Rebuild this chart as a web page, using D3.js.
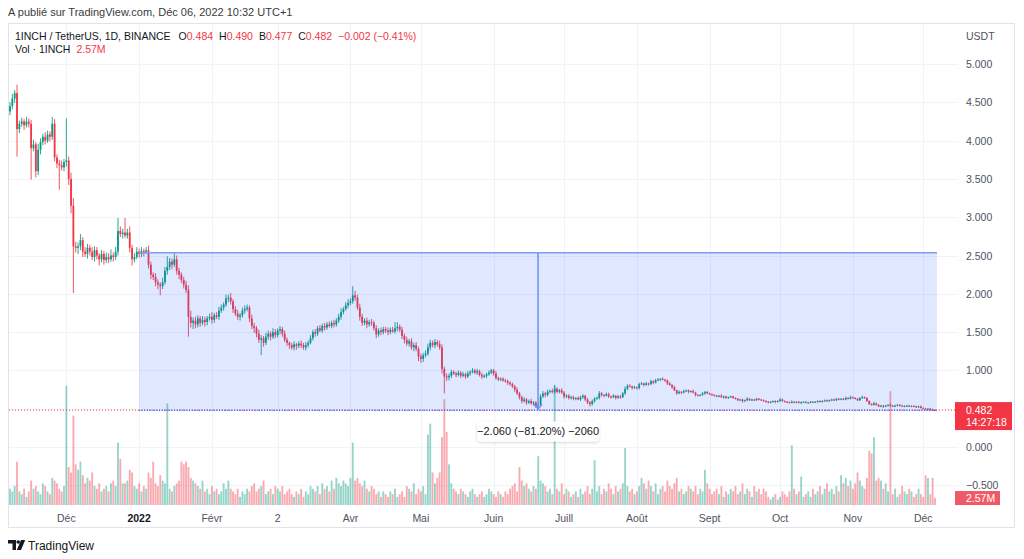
<!DOCTYPE html>
<html><head><meta charset="utf-8">
<script src="https://cdn.jsdelivr.net/npm/d3@7"></script>
<style>body{margin:0;background:#fff;} svg{display:block;font-family:"Liberation Sans",Arial,sans-serif;}</style>
</head><body><svg id="c" width="1024" height="559"></svg>
<script>
// ---------- DATA ----------
const startDate = "2021-11-07";
const firstOpen = 4.38;
const closes = [
4.45,4.55,4.62,4.15,4.22,4.25,4.20,4.25,4.22,3.90,
3.95,3.60,3.88,3.98,4.05,4.00,4.08,4.05,4.22,3.78,
3.70,3.68,3.65,3.72,3.74,3.50,3.15,2.62,2.60,2.62,
2.70,2.55,2.52,2.60,2.55,2.48,2.57,2.50,2.45,2.52,
2.44,2.48,2.45,2.50,2.48,2.55,2.82,2.78,2.80,2.76,
2.80,2.60,2.45,2.48,2.55,2.52,2.56,2.55,2.57,2.38,
2.25,2.22,2.15,2.12,2.10,2.15,2.30,2.35,2.42,2.38,
2.45,2.30,2.25,2.18,2.12,2.05,1.70,1.62,1.65,1.60,
1.68,1.62,1.66,1.63,1.68,1.70,1.66,1.72,1.70,1.78,
1.82,1.86,1.94,1.95,1.90,1.80,1.74,1.70,1.72,1.78,
1.80,1.82,1.68,1.58,1.55,1.48,1.40,1.42,1.36,1.44,
1.48,1.44,1.50,1.46,1.52,1.54,1.48,1.40,1.36,1.33,
1.30,1.34,1.32,1.35,1.33,1.30,1.33,1.36,1.42,1.50,
1.48,1.55,1.52,1.58,1.56,1.60,1.58,1.62,1.60,1.65,
1.70,1.76,1.80,1.85,1.88,1.90,1.98,1.95,1.82,1.70,
1.62,1.65,1.60,1.63,1.62,1.55,1.47,1.52,1.50,1.54,
1.52,1.50,1.53,1.51,1.55,1.57,1.53,1.45,1.40,1.35,
1.38,1.30,1.33,1.28,1.18,1.15,1.20,1.22,1.30,1.36,
1.33,1.37,1.34,1.30,1.02,0.92,0.91,0.93,0.98,0.96,
0.94,0.97,0.93,0.95,0.92,0.96,0.98,1.00,0.97,0.99,
0.94,0.92,0.93,0.95,0.97,1.00,0.96,0.90,0.88,0.89,
0.87,0.86,0.84,0.82,0.79,0.75,0.70,0.65,0.60,0.62,
0.58,0.60,0.57,0.58,0.53,0.55,0.66,0.70,0.68,0.72,
0.73,0.72,0.76,0.72,0.74,0.71,0.66,0.67,0.64,0.65,
0.63,0.64,0.62,0.65,0.67,0.62,0.58,0.56,0.60,0.63,
0.64,0.70,0.68,0.67,0.69,0.66,0.65,0.67,0.64,0.66,
0.65,0.70,0.76,0.80,0.79,0.77,0.78,0.77,0.82,0.83,
0.81,0.83,0.82,0.86,0.84,0.87,0.88,0.89,0.88,0.87,
0.83,0.81,0.78,0.74,0.70,0.72,0.71,0.73,0.74,0.72,
0.73,0.71,0.68,0.67,0.68,0.70,0.72,0.70,0.69,0.68,
0.67,0.66,0.67,0.65,0.66,0.64,0.65,0.66,0.64,0.63,
0.61,0.62,0.60,0.61,0.63,0.61,0.62,0.61,0.63,0.62,
0.61,0.60,0.59,0.58,0.59,0.60,0.59,0.60,0.62,0.60,
0.59,0.585,0.58,0.59,0.58,0.59,0.58,0.585,0.59,0.58,
0.58,0.59,0.585,0.59,0.60,0.59,0.60,0.61,0.60,0.61,
0.62,0.61,0.63,0.62,0.63,0.62,0.64,0.63,0.65,0.64,
0.63,0.61,0.64,0.65,0.64,0.60,0.56,0.55,0.57,0.55,
0.53,0.54,0.53,0.54,0.55,0.54,0.53,0.54,0.55,0.54,
0.53,0.535,0.54,0.53,0.535,0.53,0.52,0.53,0.51,0.50,
0.49,0.50,0.49,0.484,0.482];
// upper / lower wick lengths, in cents
const upWick = [
5,6,4,11,4,5,3,6,4,5, 6,3,8,5,4,6,5,4,9,6, 4,5,6,4,55,5,8,10,6,5, 8,4,6,5,4,6,5,4,3,5,
4,6,5,8,4,6,17,6,5,19, 5,8,4,5,6,4,5,3,4,6, 4,3,5,4,3,6,5,14,5,4, 8,5,4,3,4,5,6,8,4,5,
4,3,5,4,3,4,6,3,4,5, 4,3,5,4,6,3,4,5,3,4, 5,4,3,5,4,3,5,4,3,5, 4,3,5,4,3,4,3,4,3,2,
3,4,2,3,4,3,4,3,4,3, 4,3,4,3,4,3,4,3,4,3, 4,5,3,4,5,4,12,6,4,5, 4,3,4,3,4,3,4,3,4,3,
3,4,3,4,8,6,3,4,3,4, 3,4,3,4,3,4,3,4,5,4, 3,4,3,5,4,3,4,3,3,2, 2,3,2,3,2,3,2,3,2,3,
2,3,2,2,3,2,2,3,2,2, 2,2,2,2,2,2,3,2,2,3, 2,2,3,2,2,2,3,3,2,3, 2,3,5,2,2,3,2,2,2,2,
2,1,2,2,2,1,2,2,2,2, 2,3,2,1,2,2,1,2,1,2, 2,2,3,2,2,1,2,1,2,2, 1,2,1,2,1,2,2,1,2,1,
1,2,1,2,1,2,1,2,1,1, 1,2,1,1,1,2,1,1,1,1, 1,1,1,2,1,1,1,1,1,1, 1,1,1,1,2,1,1,1,1,1,
1,1,1,1,1,1,1,1,2,1, 1,1,1,2,1,1,1,1,1,1, 1,1,1,1,1,1,1,1,1,1, 1,1,1,1,1,1,2,1,2,1,
1,1,1,2,1,1,1,1,2,1, 1,1,1,1,1,2,1,1,1,1, 1,1,1,1,1,1,1,1,1,1, 1,1,1,1,1];
const loWick = [
5,4,6,36,5,4,6,3,5,41, 4,8,5,6,4,5,3,6,4,5, 6,32,4,5,6,8,10,61,6,8, 5,7,4,6,5,4,6,5,8,4,
6,4,5,3,6,4,5,4,6,3, 4,6,8,4,3,5,4,6,3,5, 6,4,5,6,12,4,3,5,4,6, 3,5,6,4,5,4,26,6,8,5,
4,5,3,6,4,3,5,4,3,4, 3,4,3,5,4,5,3,4,5,3, 4,3,5,4,6,5,4,20,5,3, 4,5,3,4,3,5,4,3,4,5,
3,4,5,3,4,3,4,3,2,3, 4,3,2,3,4,3,2,3,4,3, 3,4,3,2,4,3,3,4,3,5, 4,3,5,3,4,3,5,3,4,3,
3,4,3,2,3,4,3,4,5,3, 4,3,5,3,6,5,4,3,3,4, 3,4,3,3,6,22,5,4,3,2, 3,2,3,2,3,2,3,2,2,3,
2,3,2,3,2,2,3,2,2,2, 2,2,3,2,2,3,2,3,3,2, 3,2,2,3,2,4,2,2,3,2, 2,2,3,2,2,2,3,2,2,2,
2,2,1,2,2,2,2,3,2,2, 1,2,2,2,1,2,2,1,2,1, 2,1,2,2,1,2,1,2,2,1, 2,1,2,1,2,1,1,2,1,2,
2,1,2,1,2,1,2,1,1,2, 1,1,2,1,1,1,2,1,1,1, 1,1,1,1,2,1,1,1,1,1, 1,1,2,1,1,1,1,1,1,1,
1,1,1,1,1,1,2,1,1,1, 1,1,1,1,1,1,1,2,1,1, 1,1,1,1,1,1,1,1,1,1, 1,1,1,1,1,1,1,1,1,1,
1,1,1,1,1,1,1,1,1,1, 1,1,2,1,1,1,1,1,1,1, 1,1,1,1,1,1,1,1,1,1, 1,1,1,1,1];
// volume, millions
const volumes = [
6,5,7,16,5,4,6,3,5,9, 6,7,5,4,8,7,5,4,10,9, 8,6,5,7,44,14,12,33,15,13, 16,11,8,10,9,12,7,6,8,5,
6,7,5,8,9,7,23,17,8,8, 9,13,12,7,6,8,5,7,6,12, 10,16,8,7,11,9,8,37.5,6,5, 7,8,9,16,15,16,14,10,9,8,
7,6,9,5,6,4,7,5,6,4, 5,8,6,9,6,5,4,6,3,5, 4,6,5,7,8,5,6,7,9,4, 5,6,4,7,6,5,7,4,5,6,
4,3,5,4,6,3,5,4,7,6, 5,7,4,8,6,7,5,9,6,10, 8,7,9,8,7,10,23,9,10,8, 7,9,6,5,7,6,4,5,3,5,
4,3,5,4,6,3,4,5,3,7, 6,5,8,4,6,5,7,4,26,30, 12,8,10,12,25,39,27,15,8,6, 5,4,6,5,4,3,5,6,4,3,
4,5,3,4,6,5,4,3,5,4, 3,5,4,6,7,8,5,14,9,7, 8,6,5,7,6,18,9,8,7,5, 6,4,44,6,5,8,4,6,5,3,
4,5,3,6,4,5,7,4,6,16.5, 5,7,4,6,5,8,6,4,7,5, 6,8,21,7,5,6,4,5,7,10, 8,6,9,7,5,8,4,6,7,5,
9,7,6,8,10,5,6,4,5,7, 6,5,7,4,6,5,13,8,6,4, 5,6,4,7,3,5,4,6,5,7, 4,5,8,4,6,5,3,7,5,6,
4,6,5,3,2,3,4,2,3,5, 4,3,5,22,6,4,5,10.5,3,4, 5,3,6,4,5,7,4,6,8,5, 6,4,7,5,11,8,10,7,9,6,
8,12,9,7,6,10,20,19,25,9, 10,9,6,8,5,42,4,6,3,4, 7,5,4,6,5,3,4,6,4,3, 11,10,4,10,2.57];

const priceTicks = [5, 4.5, 4, 3.5, 3, 2.5, 2, 1.5, 1, 0.5, 0, -0.5];
const monthTicks = ["2021-12-01","2022-01-01","2022-02-01","2022-03-01","2022-04-01","2022-05-01","2022-06-01","2022-07-01","2022-08-01","2022-09-01","2022-10-01","2022-11-01","2022-12-01"];
const monthLabels = ["Déc","2022","Févr","2","Avr","Mai","Juin","Juill","Août","Sept","Oct","Nov","Déc"];
const rangeStart = "2022-01-01", rangeTop = 2.537, rangeBottom = 0.477;
const measureText = "−2.060 (−81.20%) −2060";
const lastPrice = 0.482, countdown = "14:27:18", lastVolLabel = "2.57M";
const headerText = "A publié sur TradingView.com, Déc 06, 2022 10:32 UTC+1";
const ohlc = [["O","0.484"],["H","0.490"],["B","0.477"],["C","0.482"]];
const changeText = "−0.002 (−0.41%)";

// ---------- CHART ----------
const svg = d3.select("#c");
const parse = d3.timeParse("%Y-%m-%d");
const t0 = parse(startDate);
const N = closes.length;
const dates = closes.map((_, i) => d3.timeDay.offset(t0, i));
const candles = closes.map((c, i) => {
  const o = i ? closes[i - 1] : firstOpen;
  return {d: dates[i], o, c, h: Math.max(o, c) + upWick[i] / 100, l: Math.min(o, c) - loWick[i] / 100, v: volumes[i]};
});

const x = d3.scaleTime().domain([dates[0], dates[N - 1]]).range([10, 935]);
const y = d3.scaleLinear().domain([0, 5]).range([447, 64]);
const yv = d3.scaleLinear().domain([0, 45]).range([505, 383]);
const UP = "#089981", DN = "#f23645";
const plotR = 958;

// header
svg.append("text").attr("x", 8).attr("y", 16).attr("font-size", 11).attr("fill", "#3b3b3b").text(headerText);
// panel frame
svg.append("rect").attr("x", 8.5).attr("y", 23.5).attr("width", 1006).attr("height", 504).attr("fill", "none").attr("stroke", "#e0e3eb");

// grid
const g = svg.append("g");
g.selectAll(".vg").data(monthTicks).join("line")
  .attr("x1", d => Math.round(x(parse(d))) + 0.5).attr("x2", d => Math.round(x(parse(d))) + 0.5)
  .attr("y1", 24).attr("y2", 507).attr("stroke", "#f0f3fa");
g.selectAll(".hg").data(priceTicks).join("line")
  .attr("x1", 9).attr("x2", plotR).attr("y1", d => Math.round(y(d)) + 0.5).attr("y2", d => Math.round(y(d)) + 0.5)
  .attr("stroke", "#f0f3fa");

// volume
const bw = (x(dates[1]) - x(dates[0]));
svg.append("g").selectAll("rect").data(candles).join("rect")
  .attr("x", d => x(d.d) - bw * 0.4).attr("width", bw * 0.8)
  .attr("y", d => yv(d.v)).attr("height", d => yv(0) - yv(d.v))
  .attr("fill", d => d.c >= d.o ? UP : DN).attr("opacity", 0.42);

// last price line (red dotted)
svg.append("line").attr("x1", 9).attr("x2", plotR).attr("y1", y(lastPrice)).attr("y2", y(lastPrice))
  .attr("stroke", DN).attr("stroke-dasharray", "1,2").attr("stroke-width", 1);

// candles
const cg = svg.append("g");
cg.selectAll("line").data(candles).join("line")
  .attr("x1", d => x(d.d)).attr("x2", d => x(d.d)).attr("y1", d => y(d.h)).attr("y2", d => y(d.l))
  .attr("stroke", d => d.c >= d.o ? UP : DN).attr("stroke-width", 1).attr("opacity", 0.85);
cg.selectAll("rect").data(candles).join("rect")
  .attr("x", d => x(d.d) - bw * 0.38).attr("width", bw * 0.76)
  .attr("y", d => y(Math.max(d.o, d.c))).attr("height", d => Math.max(1, Math.abs(y(d.o) - y(d.c))))
  .attr("fill", d => d.c >= d.o ? UP : DN);

// price range drawing
const rx0 = x(parse(rangeStart)), rx1 = x(dates[N - 1]) + 2;
const ry0 = y(rangeTop), ry1 = y(rangeBottom);
svg.append("rect").attr("x", rx0).attr("y", ry0).attr("width", rx1 - rx0).attr("height", ry1 - ry0)
  .attr("fill", "rgba(41,98,255,0.15)");
svg.append("line").attr("x1", rx0).attr("x2", rx1).attr("y1", ry0).attr("y2", ry0).attr("stroke", "#7f9cf5").attr("stroke-width", 1.5);
svg.append("line").attr("x1", rx0).attr("x2", rx1).attr("y1", ry1).attr("y2", ry1).attr("stroke", "#2f5cf0").attr("stroke-width", 1.2).attr("stroke-dasharray", "1,1.5");
const mx = (rx0 + rx1) / 2;
svg.append("line").attr("x1", mx).attr("x2", mx).attr("y1", ry0).attr("y2", ry1 - 1).attr("stroke", "#6d8ff7").attr("stroke-width", 1.5);
svg.append("path").attr("d", `M${mx - 4},${ry1 - 6}L${mx},${ry1 - 1.5}L${mx + 4},${ry1 - 6}`).attr("fill", "none").attr("stroke", "#6d8ff7").attr("stroke-width", 1.3);
const defs = svg.append("defs");
const f = defs.append("filter").attr("id", "sh").attr("x", "-20%").attr("y", "-50%").attr("width", "140%").attr("height", "200%");
f.append("feDropShadow").attr("dx", 0).attr("dy", 1).attr("stdDeviation", 1.5).attr("flood-color", "#000").attr("flood-opacity", 0.18);
svg.append("rect").attr("x", mx - 61).attr("y", ry1 + 11).attr("width", 122).attr("height", 20).attr("rx", 4)
  .attr("fill", "#fff").attr("filter", "url(#sh)");
svg.append("text").attr("x", mx).attr("y", ry1 + 25).attr("text-anchor", "middle").attr("font-size", 11).attr("fill", "#131722").text(measureText);

// right price axis
const fmt = d3.format(".3f");
svg.append("g").selectAll("text").data(priceTicks).join("text")
  .attr("x", 966).attr("y", d => y(d) + 4).attr("font-size", 10.5).attr("fill", "#50535e").text(d => fmt(d));
svg.append("text").attr("x", 966).attr("y", 40).attr("font-size", 10.5).attr("fill", "#50535e").text("USDT");
// last price label
const ly = y(lastPrice);
svg.append("rect").attr("x", 955).attr("y", ly - 8).attr("width", 57).attr("height", 28).attr("fill", DN);
svg.append("text").attr("x", 966).attr("y", ly + 4).attr("font-size", 10.5).attr("fill", "#fff").text(fmt(lastPrice));
svg.append("text").attr("x", 966).attr("y", ly + 16).attr("font-size", 10.5).attr("fill", "#fff").text(countdown);
const vy = yv(volumes[N - 1]);
svg.append("rect").attr("x", 955).attr("y", vy - 7).attr("width", 45).attr("height", 14).attr("fill", "#f05a66");
svg.append("text").attr("x", 966).attr("y", vy + 4).attr("font-size", 10.5).attr("fill", "#fff").text(lastVolLabel);

// time axis
svg.append("g").selectAll("text").data(monthTicks).join("text")
  .attr("x", d => x(parse(d))).attr("y", 522).attr("text-anchor", "middle").attr("font-size", 10.5)
  .attr("font-weight", (d, i) => monthLabels[i] === "2022" ? "bold" : null)
  .attr("fill", (d, i) => monthLabels[i] === "2022" ? "#131722" : "#50535e")
  .text((d, i) => monthLabels[i]);

// legend
const l1 = svg.append("text").attr("x", 15).attr("y", 40).attr("font-size", 10.5).attr("fill", "#131722");
l1.append("tspan").text("1INCH / TetherUS, 1D, BINANCE");
ohlc.forEach(([k, v], i) => {
  l1.append("tspan").attr("dx", i ? 6 : 8).text(k);
  l1.append("tspan").attr("fill", DN).text(v);
});
l1.append("tspan").attr("dx", 6).attr("fill", DN).text(changeText);
const l2 = svg.append("text").attr("x", 15).attr("y", 53).attr("font-size", 10.5).attr("fill", "#131722");
l2.append("tspan").text("Vol · 1INCH");
l2.append("tspan").attr("dx", 6).attr("fill", DN).text(lastVolLabel);

// TradingView logo
const lg = svg.append("g").attr("fill", "#131722");
lg.append("path").attr("d", "M8,540h8v10h-3.5v-6.5H8z");
lg.append("circle").attr("cx", 18.2).attr("cy", 542).attr("r", 1.8);
lg.append("path").attr("d", "M21,540h4.2l-4.2,10h-4.2z");
svg.append("text").attr("x", 28).attr("y", 549.5).attr("font-size", 12).attr("fill", "#131722").text("TradingView");
</script></body></html>
